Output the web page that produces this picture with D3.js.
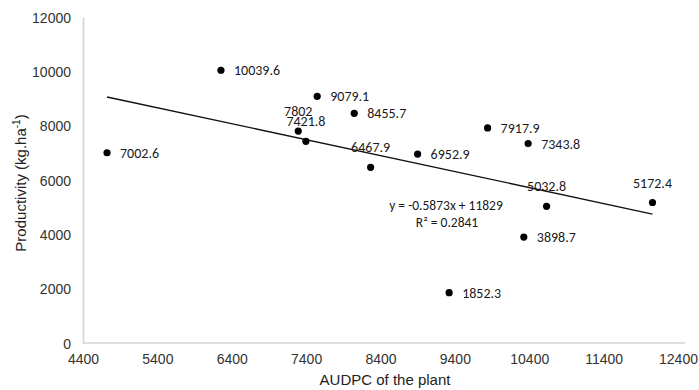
<!DOCTYPE html>
<html>
<head>
<meta charset="utf-8">
<script src="https://cdn.jsdelivr.net/npm/d3@7"></script>
<style>
  html, body { margin: 0; padding: 0; background: #fff; }
  svg { display: block; }
</style>
</head>
<body>
<svg id="chart" width="699" height="390"></svg>
<script>
// ---- data ----
const audpc = [4723, 6255, 7549, 8047, 7294, 7397, 8267, 8899, 9840, 10385, 10633, 12057, 10327, 9323];
const productivity = [7002.6, 10039.6, 9079.1, 8455.7, 7802, 7421.8, 6467.9, 6952.9, 7917.9, 7343.8, 5032.8, 5172.4, 3898.7, 1852.3];
const labelsAbove = [7802, 7421.8, 6467.9, 5032.8, 5172.4];
const xTicks = [4400, 5400, 6400, 7400, 8400, 9400, 10400, 11400, 12400];
const yTicks = [0, 2000, 4000, 6000, 8000, 10000, 12000];
const trendSlope = -0.5873;
const trendIntercept = 11829;
const equationText = "y = -0.5873x + 11829";
const r2Value = "0.2841";
const xTitle = "AUDPC of the plant";

(function () {
// ---- layout ----
const svg = d3.select("#chart");
const mLeft = 83, mRight = 678, axisEnd = 685, mTop = 17, mBottom = 343;
const x = d3.scaleLinear().domain([4400, 12400]).range([mLeft, mRight]);
const y = d3.scaleLinear().domain([0, 12000]).range([mBottom, mTop]);

const axisColor = "#d4d4d4";
const tickFont = "'Liberation Sans', Arial, sans-serif";
const labelFont = "Carlito, Calibri, Roboto, sans-serif";

// axes
const xAxis = svg.append("g").attr("transform", `translate(0,${mBottom})`)
  .call(d3.axisBottom(x).tickValues(xTicks).tickSize(0).tickPadding(11).tickFormat(d3.format("d")));
const yAxis = svg.append("g").attr("transform", `translate(${mLeft},0)`)
  .call(d3.axisLeft(y).tickValues(yTicks).tickSize(0).tickPadding(12).tickFormat(d3.format("d")));
xAxis.select(".domain").remove();
xAxis.append("line").attr("x1", mLeft).attr("x2", axisEnd).attr("y1", 0).attr("y2", 0)
  .attr("stroke", axisColor).attr("stroke-width", 1.6);
yAxis.select(".domain").attr("stroke", axisColor).attr("stroke-width", 1.6);
[xAxis, yAxis].forEach(a => {
  a.selectAll("text").attr("font-family", tickFont).attr("font-size", 14).attr("fill", "#333");
});
yAxis.selectAll("text").attr("dy", "0.36em");

// axis titles
svg.append("text")
  .attr("x", 385).attr("y", 385)
  .attr("text-anchor", "middle")
  .attr("font-family", tickFont).attr("font-size", 15).attr("fill", "#222")
  .text(xTitle);

const yt = svg.append("text")
  .attr("transform", "translate(26,183) rotate(-90)")
  .attr("text-anchor", "middle")
  .attr("font-family", tickFont).attr("font-size", 15).attr("fill", "#222");
yt.append("tspan").text("Productivity (kg.ha");
yt.append("tspan").attr("font-size", 10).attr("dy", -6).text("-1");
yt.append("tspan").attr("dy", 6).text(")");

// trend line
const xExt = d3.extent(audpc);
svg.append("path")
  .datum(xExt.map(v => [v, trendSlope * v + trendIntercept]))
  .attr("d", d3.line().x(d => x(d[0])).y(d => y(d[1])))
  .attr("stroke", "#111").attr("stroke-width", 1.3).attr("fill", "none");

// points
const pts = audpc.map((v, i) => ({ x: v, y: productivity[i] }));
svg.append("g").selectAll("circle").data(pts).join("circle")
  .attr("cx", d => x(d.x)).attr("cy", d => y(d.y)).attr("r", 3.6)
  .attr("fill", "#000");

// data labels
svg.append("g").selectAll("text").data(pts).join("text")
  .attr("x", d => labelsAbove.includes(d.y) ? x(d.x) : x(d.x) + 13)
  .attr("y", d => labelsAbove.includes(d.y) ? y(d.y) - 20 : y(d.y))
  .attr("dy", "0.36em")
  .attr("text-anchor", d => labelsAbove.includes(d.y) ? "middle" : "start")
  .attr("font-family", labelFont).attr("font-size", 14).attr("fill", "#1a1a1a")
  .text(d => d.y);

// equation
svg.append("text")
  .attr("x", 446).attr("y", 210)
  .attr("text-anchor", "middle")
  .attr("font-family", labelFont).attr("font-size", 13.5).attr("fill", "#1a1a1a")
  .text(equationText);
svg.append("text")
  .attr("x", 447).attr("y", 227)
  .attr("text-anchor", "middle")
  .attr("font-family", labelFont).attr("font-size", 13.5).attr("fill", "#1a1a1a")
  .text("R² = " + r2Value);
})();
</script>
</body>
</html>
